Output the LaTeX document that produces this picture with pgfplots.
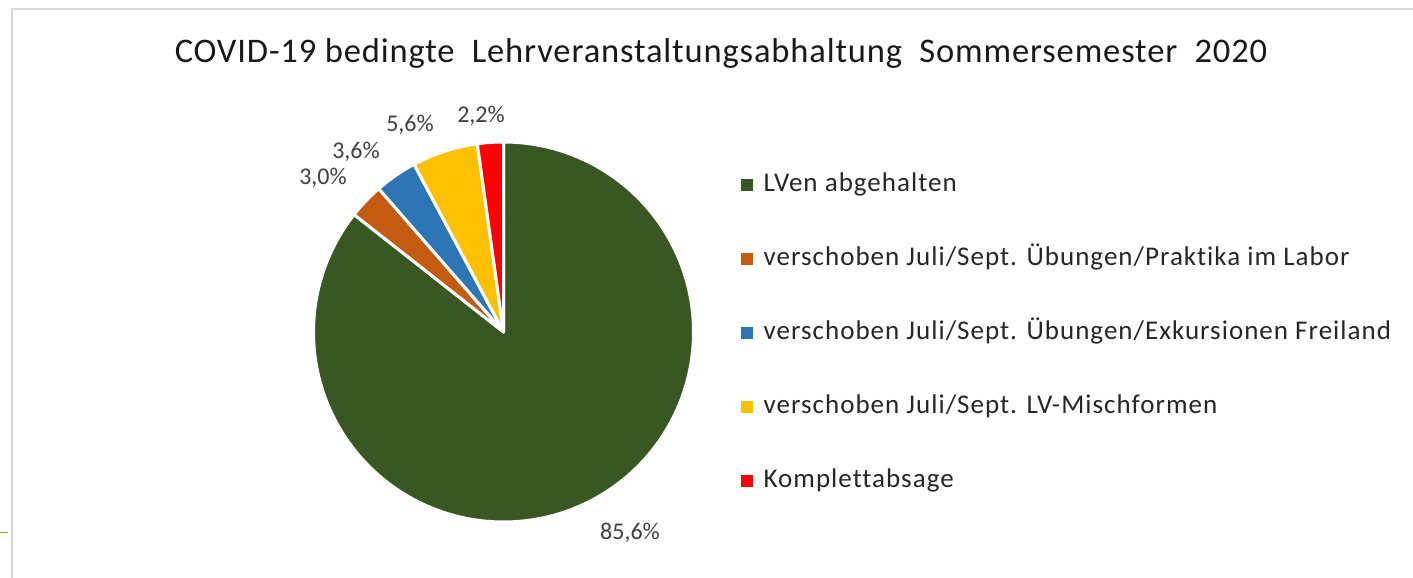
\documentclass[border=0pt]{standalone}
\usepackage{pgfplots}
\pgfplotsset{compat=1.18}
\usepackage{fontspec}
\setmainfont{Carlito}[Ligatures=NoCommon]
\newfontfamily\legfont{Carlito}[Ligatures=NoCommon, LetterSpace=3.8]
\newfontfamily\titlefont{Carlito}[Ligatures=NoCommon, LetterSpace=2.5]
\definecolor{cGreen}{HTML}{385723}
\definecolor{cOrange}{HTML}{C55A11}
\definecolor{cBlue}{HTML}{2E75B6}
\definecolor{cYellow}{HTML}{FFC000}
\definecolor{cRed}{HTML}{FF0000}
\definecolor{frameGray}{HTML}{D9D9D9}
\definecolor{txt}{HTML}{404040}
\definecolor{tickGreen}{HTML}{70AD47}
% shares in percent (clockwise from 12 o'clock)
\def\vA{85.6}
\def\vB{3.0}
\def\vC{3.6}
\def\vD{5.6}
\def\vE{2.2}
\pgfmathsetmacro\sB{\vA}
\pgfmathsetmacro\sC{\vA+\vB}
\pgfmathsetmacro\sD{\vA+\vB+\vC}
\pgfmathsetmacro\sE{\vA+\vB+\vC+\vD}
\pgfmathsetmacro\sF{\vA+\vB+\vC+\vD+\vE}
\def\cx{503.5}
\def\cy{246}
\def\R{190}
\begin{document}
\begin{tikzpicture}
\useasboundingbox (0,0) rectangle (1413pt,578pt);
\begin{axis}[
  at={(0pt,0pt)}, anchor=south west,
  scale only axis, width=1413pt, height=578pt,
  xmin=0, xmax=1413, ymin=0, ymax=578,
  hide axis, clip=false,
  legend cell align=left,
  legend style={at={(axis cs:741,406)}, anchor=north west, draw=none, fill=none,
    font=\legfont\fontsize{27}{31}\selectfont, row sep=48pt, column sep=11pt,
    inner sep=0pt, nodes={inner sep=0pt, text height=19pt, text depth=7pt, text=black!85}},
]
% frame
\draw[frameGray, line width=2pt] (axis cs:11.5,0) -- (axis cs:11.5,569) -- (axis cs:1413,569);
\draw[tickGreen, line width=1.2pt] (axis cs:0,45.5) -- (axis cs:8,45.5);
% slices
\addplot[forget plot, fill=cGreen, draw=white, line width=3pt, line join=round, domain=0:\sB, samples=240, variable=\t]
  ({\cx+\R*sin(3.6*\t)},{\cy+\R*cos(3.6*\t)}) -- (axis cs:\cx,\cy) -- cycle;
\addplot[forget plot, fill=cOrange, draw=white, line width=3pt, line join=round, domain=\sB:\sC, samples=20, variable=\t]
  ({\cx+\R*sin(3.6*\t)},{\cy+\R*cos(3.6*\t)}) -- (axis cs:\cx,\cy) -- cycle;
\addplot[forget plot, fill=cBlue, draw=white, line width=3pt, line join=round, domain=\sC:\sD, samples=20, variable=\t]
  ({\cx+\R*sin(3.6*\t)},{\cy+\R*cos(3.6*\t)}) -- (axis cs:\cx,\cy) -- cycle;
\addplot[forget plot, fill=cYellow, draw=white, line width=3pt, line join=round, domain=\sD:\sE, samples=30, variable=\t]
  ({\cx+\R*sin(3.6*\t)},{\cy+\R*cos(3.6*\t)}) -- (axis cs:\cx,\cy) -- cycle;
\addplot[forget plot, fill=cRed, draw=white, line width=3pt, line join=round, domain=\sE:\sF, samples=15, variable=\t]
  ({\cx+\R*sin(3.6*\t)},{\cy+\R*cos(3.6*\t)}) -- (axis cs:\cx,\cy) -- cycle;
% legend
\addlegendimage{legend image code/.code={\fill[cGreen] (0pt,-5.5pt) rectangle (11pt,5.5pt);}}
\addlegendentry{LVen abgehalten}
\addlegendimage{legend image code/.code={\fill[cOrange] (0pt,-5.5pt) rectangle (11pt,5.5pt);}}
\addlegendentry{verschoben Juli/Sept. Übungen/Praktika im Labor}
\addlegendimage{legend image code/.code={\fill[cBlue] (0pt,-5.5pt) rectangle (11pt,5.5pt);}}
\addlegendentry{verschoben Juli/Sept. Übungen/Exkursionen Freiland}
\addlegendimage{legend image code/.code={\fill[cYellow] (0pt,-5.5pt) rectangle (11pt,5.5pt);}}
\addlegendentry{verschoben Juli/Sept. LV-Mischformen}
\addlegendimage{legend image code/.code={\fill[cRed] (0pt,-5.5pt) rectangle (11pt,5.5pt);}}
\addlegendentry{Komplettabsage}
% title
\node[anchor=base, font=\titlefont\fontsize{34.5}{40}\selectfont, text=black!90] at (axis cs:721,515)
  {COVID-19 bedingte\hspace{0.25em} Lehrveranstaltungsabhaltung\hspace{0.25em} Sommersemester\hspace{0.25em} 2020};
% data labels
\begin{scope}[every node/.style={font=\fontsize{24}{28}\selectfont, text=txt}]
\node at (axis cs:630,45.5) {85,6\%};
\node at (axis cs:323,400.5) {3,0\%};
\node at (axis cs:356,426.5) {3,6\%};
\node at (axis cs:410,453) {5,6\%};
\node at (axis cs:481,462.5) {2,2\%};
\end{scope}
\end{axis}
\end{tikzpicture}
\end{document}
